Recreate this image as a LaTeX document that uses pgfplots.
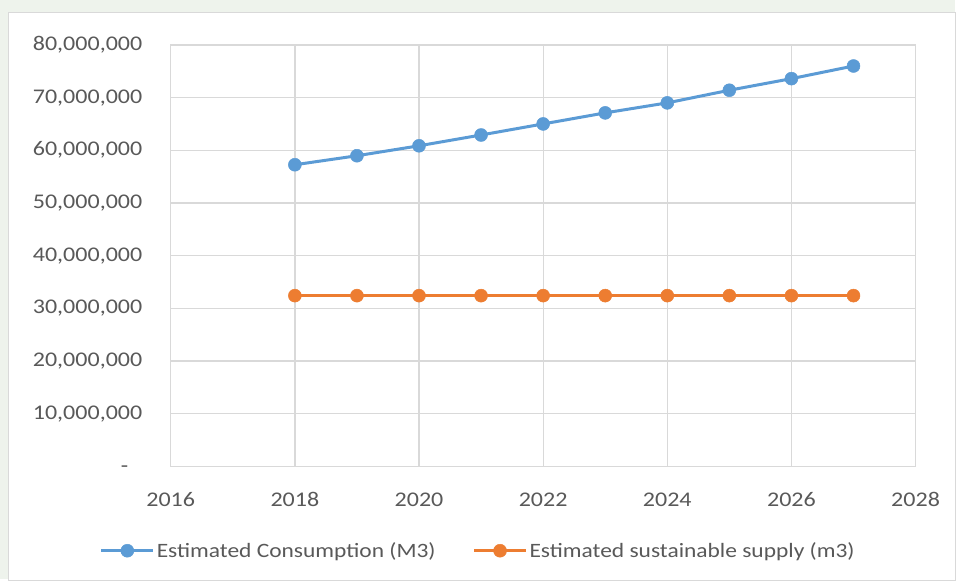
\documentclass[border=0pt]{standalone}
\usepackage{fontspec}
\setmainfont{Carlito}[FakeStretch=1.15]
\usepackage{pgfplots}
\pgfplotsset{compat=1.18}
\definecolor{bgc}{HTML}{EEF3EC}
\definecolor{gridc}{HTML}{D9D9D9}
\definecolor{txt}{HTML}{595959}
\definecolor{cblue}{HTML}{5B9BD5}
\definecolor{corange}{HTML}{ED7D31}
\begin{document}
\begin{tikzpicture}
\fill[bgc] (-171bp,-113bp) rectangle (785bp,467bp);
\fill[white,draw=gridc,line width=1bp] (-162bp,-114bp) rectangle (786bp,454bp);
\useasboundingbox (-171bp,-113bp) rectangle (785bp,467bp);
\begin{axis}[
  at={(0,0)}, anchor=south west,
  scale only axis, width=746bp, height=422bp,
  xmin=2016, xmax=2028, ymin=0, ymax=80000000,
  xtick={2016,2018,...,2028},
  ytick={0,10000000,20000000,30000000,40000000,50000000,60000000,70000000,80000000},
  yticklabels={{\vphantom{0}-\hspace{14bp}\mbox{}},{10,000,000},{20,000,000},{30,000,000},{40,000,000},{50,000,000},{60,000,000},{70,000,000},{80,000,000}},
  xticklabel style={/pgf/number format/1000 sep={}},
  /pgf/number format/assume math mode=true,
  scaled y ticks=false,
  grid=major,
  major grid style={gridc, line width=1.3bp},
  axis line style={gridc, line width=1.3bp},
  major tick length=0pt,
  tick label style={font=\fontsize{21}{25}\selectfont, text=txt},
  yticklabel style={xshift=-25bp},
  xticklabel style={yshift=-22bp, text height=15bp, text depth=0bp},
  legend style={at={(308bp,-113bp)}, anchor=south, yshift=16bp, draw=none, fill=none,
     font=\fontsize{20.5}{24}\selectfont, text=txt, legend columns=2,
     /tikz/every even column/.append style={column sep=35bp}},
  legend image code/.code={\draw[mark repeat=2,mark phase=2,#1] plot coordinates {(0bp,0bp) (26bp,0bp) (52bp,0bp)};},
  legend cell align=left,
  clip=false,
]
\addplot[cblue, line width=3bp, mark=*, mark size=6.5bp, mark options={fill=cblue, draw=cblue, line width=0.5bp}] coordinates {
(2018,57250000) (2019,58960000) (2020,60850000) (2021,62900000) (2022,65000000)
(2023,67100000) (2024,69000000) (2025,71400000) (2026,73600000) (2027,76000000)};
\addlegendentry{Estimated Consumption (M3)}
\addplot[corange, line width=3bp, mark=*, mark size=6.5bp, mark options={fill=corange, draw=corange, line width=0.5bp}] coordinates {
(2018,32400000) (2019,32400000) (2020,32400000) (2021,32400000) (2022,32400000)
(2023,32400000) (2024,32400000) (2025,32400000) (2026,32400000) (2027,32400000)};
\addlegendentry{Estimated sustainable supply (m3)}
\end{axis}
\end{tikzpicture}
\end{document}
